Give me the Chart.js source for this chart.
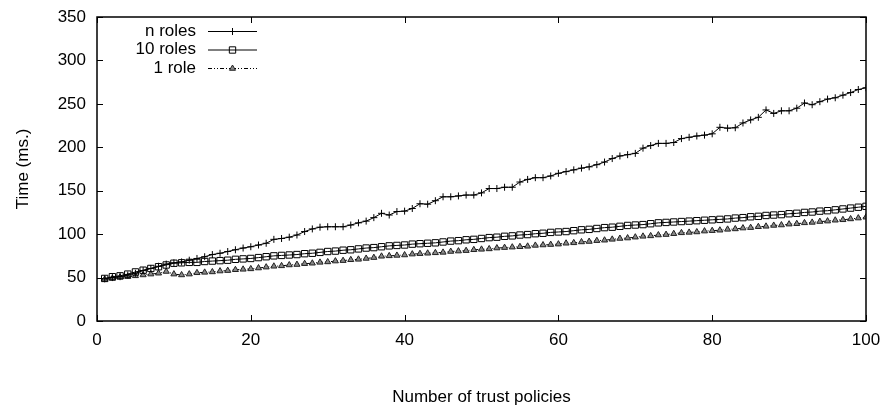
<!DOCTYPE html>
<html>
<head>
<meta charset="utf-8">
<script src="https://cdn.jsdelivr.net/npm/chart.js@4.4.1/dist/chart.umd.min.js"></script>
<style>
  html, body { margin: 0; padding: 0; background: #fff; }
  #wrap { width: 883px; height: 415px; }
</style>
</head>
<body>
<div id="wrap"><canvas id="timeChart"></canvas></div>
<script>
const policies = Array.from({ length: 100 }, (_, i) => i + 1);

const nRoles = [
  48.5, 50, 51, 53, 55, 58, 60.5, 63, 65.5, 67,
  68, 70, 72, 74, 76.5, 78, 80, 82, 84, 85.5,
  87.5, 89.5, 94, 95, 96.5, 99, 103, 106, 108, 108.5,
  108.5, 108.5, 110.5, 113, 115, 119, 124, 122, 126, 126.5,
  129.5, 135, 134.5, 138.5, 143, 143, 144, 145, 145, 147.5,
  152.5, 152.5, 154, 154, 160, 163, 165, 165, 167, 170,
  172, 174, 176, 177.5, 180, 183, 187, 190, 191.5, 193,
  199, 202, 204.5, 204.5, 205.5, 210, 211.5, 213, 214, 215.5,
  223, 222, 222.5, 228, 231.5, 234.5, 243, 239, 242, 242,
  245, 251, 249, 252.5, 255.5, 257, 260, 263, 266.5, 268.5
];

const tenRoles = [
  49, 51, 52, 54, 56.5, 58.5, 60.5, 62.5, 64.5, 66.5,
  67, 67.5, 67.5, 68.5, 69, 69.5, 70, 71, 71.5, 72,
  73, 74, 75, 75.5, 76, 76.5, 77.5, 78, 79, 80,
  80.5, 81.5, 82, 83, 84, 84.5, 85.5, 86.5, 87, 87.5,
  88.5, 89, 89.5, 90, 91, 92, 92.5, 93.5, 94, 95,
  96, 96.5, 97.5, 98, 99, 99.5, 100.5, 101, 102, 102.5,
  103, 104, 105, 105.5, 106.5, 107.5, 108, 109, 110, 110.5,
  111, 112, 113, 113.5, 114, 114.5, 115, 115.5, 116, 116.5,
  117, 117.5, 118.5, 119, 120, 120.5, 121.5, 122, 122.5, 123.5,
  124, 125, 125.5, 126.5, 127, 128, 129, 130, 131, 132
];

const oneRole = [
  48, 49, 50.5, 51, 52, 53, 54, 55, 57, 54,
  53, 54, 55.5, 56, 56.5, 57.5, 58, 59, 59.5, 60,
  61, 62, 63, 63.5, 64.5, 65, 66, 66.5, 67.5, 68,
  69, 69.5, 70.5, 71, 72, 73, 74.5, 75, 75.5, 76,
  77, 77.5, 78, 78.5, 79, 80, 80.5, 81, 82, 82.5,
  83, 84, 84.5, 85, 85.5, 86, 87, 87.5, 88, 88.5,
  89.5, 90, 91, 91.5, 92.5, 93, 94, 95, 95.5, 96.5,
  97.5, 98, 99, 99.5, 100.5, 101.5, 102, 102.5, 103.5, 104,
  104.5, 105.5, 106, 107, 107.5, 108.5, 109, 110, 110.5, 111.5,
  112, 113, 113.5, 114.5, 115, 116, 116.5, 117.5, 118.5, 119.5
];

const seriesNames = ["n roles", "10 roles", "1 role"];
const xTicks = [0, 20, 40, 60, 80, 100];
const yTicks = [0, 50, 100, 150, 200, 250, 300, 350];

const FONT = "'Liberation Sans', Arial, Helvetica, sans-serif";

function toPoints(values) {
  return values.map((v, i) => ({ x: policies[i], y: v }));
}

// gnuplot-like frame with inward ticks on all four sides
const frameTicks = {
  id: "frameTicks",
  afterDatasetsDraw(chart) {
    const { ctx, chartArea: a, scales } = chart;
    const len = 6;
    ctx.save();
    ctx.strokeStyle = "#000";
    ctx.lineWidth = 1;
    ctx.beginPath();
    xTicks.forEach(t => {
      const px = Math.round(scales.x.getPixelForValue(t)) + 0.5;
      ctx.moveTo(px, a.bottom); ctx.lineTo(px, a.bottom - len);
      ctx.moveTo(px, a.top); ctx.lineTo(px, a.top + len);
    });
    yTicks.forEach(t => {
      const py = Math.round(scales.y.getPixelForValue(t)) + 0.5;
      ctx.moveTo(a.left, py); ctx.lineTo(a.left + len, py);
      ctx.moveTo(a.right, py); ctx.lineTo(a.right - len, py);
    });
    ctx.stroke();
    ctx.lineWidth = 1.5;
    ctx.strokeRect(a.left, a.top, a.right - a.left, a.bottom - a.top);
    ctx.restore();
  }
};

// key in the top-left corner: text first, then the line sample
const keyBox = {
  id: "keyBox",
  afterDraw(chart) {
    const { ctx } = chart;
    const textRight = 196, lineL = 208, lineR = 257, top = 31, step = 18.5;
    ctx.save();
    ctx.font = "17px " + FONT;
    ctx.textAlign = "right";
    ctx.textBaseline = "middle";
    chart.data.datasets.forEach((ds, i) => {
      const y = top + i * step;
      ctx.fillStyle = "#000";
      ctx.fillText(ds.label, textRight, y);
      ctx.strokeStyle = ds.borderColor;
      ctx.lineWidth = ds.borderWidth;
      ctx.setLineDash(ds.borderDash || []);
      ctx.beginPath();
      ctx.moveTo(lineL, y + 0.5); ctx.lineTo(lineR, y + 0.5);
      ctx.stroke();
      ctx.setLineDash([]);
      ctx.fillStyle = ds.pointBackgroundColor;
      ctx.strokeStyle = ds.pointBorderColor;
      Chart.helpers.drawPoint(ctx, {
        pointStyle: ds.pointStyle,
        radius: ds.pointRadius,
        rotation: 0,
        borderWidth: 1
      }, (lineL + lineR) / 2, y + 0.5);
    });
    ctx.restore();
  }
};

new Chart(document.getElementById("timeChart"), {
  type: "line",
  data: {
    datasets: [
      {
        label: seriesNames[0],
        data: toPoints(nRoles),
        borderColor: "#000",
        borderWidth: 1,
        pointStyle: "cross",
        pointRadius: 3.5,
        pointBorderColor: "#000",
        pointBorderWidth: 1,
        pointBackgroundColor: "#000"
      },
      {
        label: seriesNames[1],
        data: toPoints(tenRoles),
        borderColor: "#000",
        borderWidth: 1,
        pointStyle: "rect",
        pointRadius: 4.5,
        pointBorderColor: "#000",
        pointBorderWidth: 1,
        pointBackgroundColor: "rgba(255,255,255,0)"
      },
      {
        label: seriesNames[2],
        data: toPoints(oneRole),
        borderColor: "#000",
        borderWidth: 1,
        borderDash: [4, 2, 1, 2, 1, 2],
        pointStyle: "triangle",
        pointRadius: 3.5,
        pointBorderColor: "#222",
        pointBorderWidth: 1,
        pointBackgroundColor: "#888"
      }
    ]
  },
  options: {
    responsive: true,
    maintainAspectRatio: false,
    animation: false,
    layout: { padding: { top: 17, right: 17, left: 0, bottom: 0 } },
    plugins: {
      legend: { display: false },
      tooltip: { enabled: false }
    },
    scales: {
      x: {
        type: "linear",
        min: 0,
        max: 100,
        afterFit(scale) {
          scale.height = 94;
          scale.paddingLeft = 0;
          scale.paddingRight = 0;
        },
        afterBuildTicks(scale) { scale.ticks = xTicks.map(v => ({ value: v })); },
        grid: { display: false, drawTicks: false },
        border: { display: false },
        ticks: {
          padding: 9,
          color: "#000",
          font: { family: FONT, size: 17 },
          maxRotation: 0
        },
        title: {
          display: true,
          text: "Number of trust policies",
          color: "#000",
          font: { family: FONT, size: 17 },
          padding: { top: 0, bottom: 7 }
        }
      },
      y: {
        min: 0,
        max: 350,
        afterFit(scale) {
          scale.width = 97;
          scale.paddingTop = 0;
          scale.paddingBottom = 0;
        },
        afterBuildTicks(scale) { scale.ticks = yTicks.map(v => ({ value: v })); },
        grid: { display: false, drawTicks: false },
        border: { display: false },
        ticks: {
          padding: 11,
          color: "#000",
          font: { family: FONT, size: 17 }
        },
        title: {
          display: true,
          text: "Time (ms.)",
          color: "#000",
          font: { family: FONT, size: 17 },
          padding: { top: 13, bottom: 0 }
        }
      }
    }
  },
  plugins: [frameTicks, keyBox]
});
</script>
</body>
</html>
